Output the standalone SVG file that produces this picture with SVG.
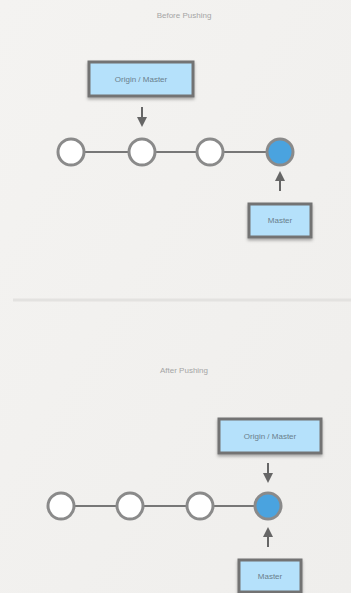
<svg xmlns="http://www.w3.org/2000/svg" width="351" height="593" viewBox="0 0 351 593">
<defs>
<linearGradient id="bg" x1="0" y1="0" x2="1" y2="1">
<stop offset="0" stop-color="#f4f3f1"/>
<stop offset="1" stop-color="#efeeec"/>
</linearGradient>
<filter id="sh" x="-20%" y="-20%" width="140%" height="160%">
<feDropShadow dx="0" dy="2" stdDeviation="1.5" flood-color="#000" flood-opacity="0.3"/>
</filter>
<marker id="ah" viewBox="0 0 10 10" refX="5" refY="5" markerWidth="5" markerHeight="5" orient="auto">
<path d="M0,0 L10,5 L0,10 Z" fill="#666"/>
</marker>
</defs>
<style>
.title{font-family:"Liberation Sans",Arial,sans-serif;font-size:8px;fill:#a5a5a5;text-anchor:middle}
.lbl{font-family:"Liberation Sans",Arial,sans-serif;font-size:8px;fill:#6a7f8c;text-anchor:middle}
.box{fill:#b5e1fb;stroke:#737373;stroke-width:3;filter:url(#sh)}
.c{fill:#fff;stroke:#8a8a8a;stroke-width:3}
.cb{fill:#4aa3df;stroke:#8a8a8a;stroke-width:3}
.ln{stroke:#777;stroke-width:2}
.ar{stroke:#666;stroke-width:2;marker-end:url(#ah)}
</style>
<rect width="351" height="593" fill="url(#bg)"/>
<text class="title" x="184" y="18">Before Pushing</text>
<line x1="13" y1="300" x2="351" y2="300" stroke="#e3e2e0" stroke-width="3"/>
<text class="title" x="184" y="373">After Pushing</text>
<g id="connectors">
<line class="ln" x1="71" y1="152" x2="280" y2="152"/>
<line class="ar" x1="142" y1="107" x2="142" y2="122"/>
<line class="ar" x1="280" y1="191" x2="280" y2="176"/>
<line class="ln" x1="61" y1="506" x2="268" y2="506"/>
<line class="ar" x1="268" y1="463" x2="268" y2="478"/>
<line class="ar" x1="268" y1="547" x2="268" y2="532"/>
</g>
<g id="top-origin"><rect class="box" x="89" y="62" width="104" height="34"/><text class="lbl" x="141" y="82">Origin / Master</text></g>
<g id="top-c1"><circle class="c" cx="71" cy="152" r="13"/></g>
<g id="top-c2"><circle class="c" cx="142" cy="152" r="13"/></g>
<g id="top-c3"><circle class="c" cx="210" cy="152" r="13"/></g>
<g id="top-c4"><circle class="cb" cx="280" cy="152" r="13"/></g>
<g id="top-master"><rect class="box" x="249" y="204" width="62" height="33"/><text class="lbl" x="280" y="223">Master</text></g>
<g id="bot-origin"><rect class="box" x="219" y="419" width="102" height="34"/><text class="lbl" x="270" y="439">Origin / Master</text></g>
<g id="bot-c1"><circle class="c" cx="61" cy="506" r="13"/></g>
<g id="bot-c2"><circle class="c" cx="130" cy="506" r="13"/></g>
<g id="bot-c3"><circle class="c" cx="200" cy="506" r="13"/></g>
<g id="bot-c4"><circle class="cb" cx="268" cy="506" r="13"/></g>
<g id="bot-master"><rect class="box" x="239" y="560" width="62" height="32"/><text class="lbl" x="270" y="579">Master</text></g>
</svg>
